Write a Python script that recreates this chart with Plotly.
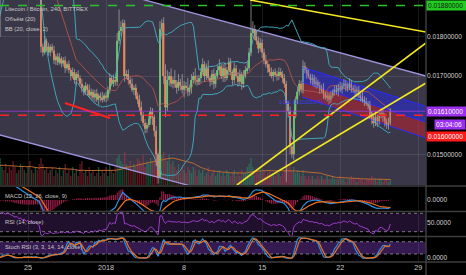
import numpy as np
import pandas as pd
import plotly.graph_objects as go

# ---------------- data (prices in 1e-5 BTC, 240-minute candles) ----------------
closes = [
    1840, 1860, 1880, 1870, 1900, 1920,
    1940, 1960, 1950, 1980, 2000, 2010,
    2030, 2050, 2040, 2070, 2090, 2080,
    2100, 2060, 2010, 2040, 2080, 2070,
    2060, 2090, 2080, 2070, 2060, 2050,
    2060, 2040, 2050, 2030, 2040, 2020,
    2030, 2010, 2020, 2000, 2010, 1990,
    1980,
    1775,
    1760, 1790, 1775, 1760,
    1775, 1765, 1740, 1750, 1735, 1745, 1732, 1740, 1720, 1730,
    1715, 1700, 1710, 1690, 1705, 1695, 1680,
    1670, 1660, 1675, 1665, 1650, 1660, 1645, 1655, 1640, 1650, 1645,
    1640, 1650, 1645, 1665,
    1695, 1680, 1690, 1685,
    1790, 1815, 1825, 1835,
    1700,
    1705, 1690, 1680, 1665, 1670, 1650, 1640,
    1620, 1600, 1580, 1565, 1575, 1590, 1610, 1595, 1560, 1500, 1440,
    1820, 1835,
    1700, 1620, 1690, 1700, 1680, 1690,
    1680, 1670, 1685, 1675, 1665, 1675, 1670, 1660, 1670, 1690, 1700, 1690, 1685, 1695,
    1710, 1730, 1700, 1720, 1695, 1685, 1705, 1680, 1700, 1715, 1725, 1700, 1720,
    1695, 1715, 1735, 1710, 1690, 1720, 1700, 1685, 1705, 1680, 1700, 1715,
    1720, 1760, 1810, 1820, 1800,
    1790, 1770, 1785, 1760, 1740, 1730,
    1720, 1710, 1700, 1710, 1705, 1700, 1710, 1705, 1695,
    1680, 1630, 1610,
    1520, 1500, 1600,
    1640, 1660, 1680, 1665,
    1725,
    1715, 1705, 1700, 1690, 1695, 1680, 1685, 1675, 1665, 1670, 1655, 1645, 1650, 1640, 1650, 1660, 1665,
    1660, 1670, 1665, 1675, 1680, 1675, 1670, 1680, 1670, 1665, 1660, 1665, 1650, 1645, 1640, 1635, 1630, 1625,
    1600, 1590, 1580, 1595, 1585, 1600, 1605, 1595, 1585, 1575, 1580, 1610,
]
wick_up = [
    8, 6, 10, 5, 9, 7, 8, 6, 10, 5, 9, 7, 8, 6, 10, 5, 9, 7, 8, 6, 10,
    10, 6, 8, 12, 5, 9, 7, 10, 6, 8, 5, 9, 12, 6, 8, 7, 10, 5, 9, 6, 8, 10,
    0, 8, 12, 6, 10, 5, 8, 12, 6, 9, 14, 5, 8, 10, 6,
    10, 6, 12, 8, 5, 10, 7, 12, 6, 9, 5, 14, 8, 6, 10, 12, 5, 8, 15, 6, 10, 8, 12, 6, 14, 8,
    20, 55, 15, 10, 8,
    10, 12, 8, 14, 6, 10, 8, 12, 15, 8, 10, 6, 14, 10, 8, 6, 12, 4,
    20, 10, 15, 30, 25, 10, 20, 8,
    25, 10, 20, 8, 30, 12, 10, 25, 8, 15, 10, 20, 12, 8,
    10, 15, 8, 12, 20, 6, 10, 14, 8, 12, 18, 6, 10, 15, 8, 12, 10, 6, 14, 8, 10, 12, 6, 15, 10,
    15, 12, 100, 20, 10,
    15, 10, 12, 8, 10, 14, 8, 10, 12, 6, 10, 8, 12, 10, 8,
    10, 8, 6, 12, 5, 10, 8, 12, 10, 8, 15,
    10, 8, 12, 6, 10, 8, 12, 6, 10, 8, 12, 6, 10, 8, 12, 6, 10,
    12, 10, 15, 8, 12, 10, 8, 14, 10, 6, 12, 8, 10, 6, 14, 8, 10, 6,
    12, 8, 10, 15, 6, 10, 12, 8, 10, 6, 14, 8,
]
wick_dn = [
    6, 9, 5, 10, 7, 8, 6, 9, 5, 10, 7, 8, 6, 9, 5, 10, 7, 8, 6, 9, 5,
    210, 8, 6, 10, 7, 9, 5, 8, 10, 6, 9, 7, 5, 10, 8, 6, 9, 7, 5, 8, 10, 6,
    15, 10, 6, 12, 8, 10, 6, 9, 12, 8, 6, 10, 8, 12, 6,
    8, 12, 6, 10, 14, 8, 6, 12, 10, 8, 15, 6, 10, 8, 12, 6, 14, 10, 8, 6, 12, 8, 10, 6, 8, 10,
    10, 8, 12, 6, 15,
    8, 12, 10, 6, 14, 8, 12, 10, 15, 8, 12, 10, 6, 14, 20, 15, 30, 15,
    0, 10, 20, 25, 10, 15, 8, 12,
    10, 15, 8, 12, 10, 20, 8, 12, 10, 15, 8, 12, 10, 8,
    12, 8, 15, 10, 6, 12, 8, 14, 10, 6, 12, 8, 15, 10, 6, 12, 8, 14, 10, 6, 12, 8, 15, 10, 6,
    8, 6, 10, 12, 8,
    10, 12, 8, 14, 10, 8, 12, 10, 6, 14, 8, 12, 10, 8, 12,
    10, 200, 15, 20, 10, 15, 8, 12, 10, 8, 10,
    8, 12, 6, 10, 14, 8, 12, 6, 10, 8, 14, 6, 10, 12, 8, 6, 10,
    8, 12, 6, 10, 8, 14, 10, 6, 12, 8, 10, 14, 6, 10, 8, 12, 6, 10,
    10, 14, 12, 8, 15, 10, 8, 12, 14, 10, 12, 6,
]
volumes = [
    6, 5, 7, 6, 5, 8, 6, 7, 5, 6, 8, 7, 6, 5, 7, 6, 8, 5, 6, 7, 9,
    9, 6, 5, 7, 4, 6, 5, 8, 6, 4, 5, 7, 6, 5, 4, 6, 8, 5, 4, 6, 5, 7,
    9, 7, 5, 6, 4, 5, 6, 3, 5, 4, 6, 3, 5, 7, 4,
    5, 3, 6, 4, 5, 3, 7, 8, 4, 5, 3, 6, 4, 5, 3, 4, 6, 3, 5, 4, 6, 3, 7, 5, 4, 6,
    9, 10, 8, 7, 11,
    7, 6, 8, 5, 7, 6, 9, 8, 7, 10, 6, 8, 7, 9, 8, 10, 11, 12,
    12, 10, 11, 9, 8, 10, 7, 8,
    6, 5, 7, 4, 6, 5, 4, 6, 5, 4, 6, 5, 3, 5,
    4, 5, 3, 4, 6, 3, 4, 5, 3, 4, 5, 3, 4, 3, 5, 4, 3, 4, 5, 3, 4, 3, 5, 4, 4,
    6, 7, 9, 6, 5,
    5, 4, 6, 4, 5, 3, 4, 5, 3, 4, 3, 5, 4, 3, 4,
    5, 8, 6, 7, 5, 6, 4, 5, 4, 3, 5,
    3, 2, 3, 2, 3, 2, 2, 3, 2, 3, 2, 2, 3, 2, 2, 3, 2,
    2, 2, 3, 2, 2, 1, 2, 2, 3, 2, 2, 1, 2, 2, 2, 1, 2, 2,
    2, 3, 2, 2, 1, 2, 2, 1, 2, 2, 1, 2,
]

first_day = -6.0            # first candle, in days from 2017-12-25 00:00
candle_days = 4.0 / 24.0    # 240-minute candles
date_ticks = [0, 7, 14, 21, 28, 35]
date_labels = ["25", "2018", "8", "15", "22", "29"]
price_ticks = [0.015, 0.017, 0.018]
day_range = [-2.511, 35.695]
price_range = [0.014216, 0.018941]

# drawings (day, price)
channel_top = [(10.49, 0.018940), (35.695, 0.017000)]
channel_bottom = [(-2.511, 0.015493), (14.26, 0.014216)]
yellow_lines = [
    [(19.91, 0.018941), (35.695, 0.018124)],
    [(18.74, 0.014216), (35.695, 0.017843)],
    [(20.36, 0.014216), (35.695, 0.016821)],
]
red_segment = [(3.318, 0.016310), (7.354, 0.015927)]
reg_upper = [(24.57, 0.017230), (35.695, 0.016221)]
reg_lower = [(24.57, 0.016464), (35.695, 0.015416)]
level_green = 0.0188
level_red = 0.0160
last_price = 0.0161

# ---------------- derived series ----------------
n = len(closes)
c = np.array(closes) / 1e5
o = np.r_[c[0], c[:-1]]
hi = np.maximum(o, c) + np.array(wick_up) / 1e5
lo = np.minimum(o, c) - np.array(wick_dn) / 1e5
t = first_day + np.arange(n) * candle_days
vol = np.array(volumes, dtype=float)
up = c >= o

s = pd.Series(c)
bb_mid = s.rolling(20).mean()
bb_sd = s.rolling(20).std(ddof=0)
bb_up = bb_mid + 2 * bb_sd
bb_lo = bb_mid - 2 * bb_sd
vol_ma = pd.Series(vol).rolling(20).mean()

ema12 = s.ewm(span=12, adjust=False).mean()
ema26 = s.ewm(span=26, adjust=False).mean()
macd = ema12 - ema26
signal = macd.ewm(span=9, adjust=False).mean()
hist = macd - signal

delta = s.diff()
gain = delta.clip(lower=0).ewm(alpha=1 / 14, adjust=False).mean()
loss = (-delta.clip(upper=0)).ewm(alpha=1 / 14, adjust=False).mean()
rsi = 100 - 100 / (1 + gain / loss.replace(0, np.nan))
rsi = rsi.fillna(100)
rmin = rsi.rolling(14).min()
rmax = rsi.rolling(14).max()
stoch = (rsi - rmin) / (rmax - rmin) * 100
k_line = stoch.rolling(3).mean()
d_line = k_line.rolling(3).mean()


def at(line, d):
    (d0, p0), (d1, p1) = line
    return p0 + (p1 - p0) * (d - d0) / (d1 - d0)


# ---------------- figure ----------------
W, H = 466, 275
ML, MR, MT, MB = 0, 40, 0, 13
PW, PH = W - ML - MR, H - MT - MB


def py(px):
    return (PH - px) / PH


def pxx(px):
    return px / PW


fig = go.Figure()

# volume (base axis y)
fig.add_trace(go.Bar(
    x=t, y=vol, width=candle_days * 0.75, yaxis="y", xaxis="x",
    marker=dict(color=np.where(up, "rgba(40,150,100,0.5)", "rgba(210,50,75,0.45)"), line=dict(width=0)),
))
fig.add_trace(go.Scatter(x=t, y=vol_ma, mode="lines", line=dict(color="#b86a30", width=1), yaxis="y"))

# channel lines
d_ext = [day_range[0] - 1, day_range[1] + 1]
for ln in (channel_top, channel_bottom):
    fig.add_trace(go.Scatter(x=d_ext, y=[at(ln, d) for d in d_ext], mode="lines",
                             line=dict(color="#a094dc", width=1.3), yaxis="y2"))

# regression channel
rx = [reg_upper[0][0], reg_upper[1][0]]
ru = [reg_upper[0][1], reg_upper[1][1]]
rl = [reg_lower[0][1], reg_lower[1][1]]
rm = [(a + b) / 2 for a, b in zip(ru, rl)]
fig.add_trace(go.Scatter(x=rx + rx[::-1], y=ru + rm[::-1], fill="toself", mode="lines",
                         fillcolor="rgba(40,40,235,0.5)", line=dict(width=0), yaxis="y2"))
fig.add_trace(go.Scatter(x=rx + rx[::-1], y=rm + rl[::-1], fill="toself", mode="lines",
                         fillcolor="rgba(200,30,45,0.5)", line=dict(width=0), yaxis="y2"))
for yy in (ru, rm, rl):
    fig.add_trace(go.Scatter(x=rx, y=yy, mode="lines", line=dict(color="#2a2aff", width=1), yaxis="y2"))

# Bollinger bands
fig.add_trace(go.Scatter(x=t, y=bb_up, mode="lines", line=dict(color="#3fa5ba", width=1), yaxis="y2"))
fig.add_trace(go.Scatter(x=t, y=bb_lo, mode="lines", line=dict(color="#3fa5ba", width=1), yaxis="y2"))
fig.add_trace(go.Scatter(x=t, y=bb_mid, mode="lines", line=dict(color="#a8504a", width=1), yaxis="y2"))

# candle wicks
wx, wy = [], []
for i in range(n):
    wx += [t[i], t[i], None]
    wy += [lo[i], hi[i], None]
fig.add_trace(go.Scatter(x=wx, y=wy, mode="lines", line=dict(color="rgba(165,165,165,0.75)", width=1), yaxis="y2"))
# candle bodies
fig.add_trace(go.Bar(
    x=t, y=np.maximum(np.abs(c - o), 1.5e-5), base=np.minimum(o, c), width=candle_days * 0.75,
    marker=dict(color=np.where(up, "#53c653", "#f2713a"), line=dict(width=0)), yaxis="y2",
))

# drawings
for ln in yellow_lines:
    fig.add_trace(go.Scatter(x=[ln[0][0], ln[1][0]], y=[ln[0][1], ln[1][1]], mode="lines",
                             line=dict(color="#f2e822", width=1.6), yaxis="y2"))
fig.add_trace(go.Scatter(x=[red_segment[0][0], red_segment[1][0]], y=[red_segment[0][1], red_segment[1][1]],
                         mode="lines", line=dict(color="#ff2020", width=2), yaxis="y2"))

# MACD
fig.add_trace(go.Bar(x=t, y=hist, width=candle_days * 0.6, yaxis="y3",
                     marker=dict(color="rgba(190,35,90,0.85)", line=dict(width=0))))
fig.add_trace(go.Scatter(x=t, y=macd, mode="lines", line=dict(color="#2e8fe0", width=1.2), yaxis="y3"))
fig.add_trace(go.Scatter(x=t, y=signal, mode="lines", line=dict(color="#f0701a", width=1.2), yaxis="y3"))
# RSI
fig.add_trace(go.Scatter(x=t, y=rsi, mode="lines", line=dict(color="#9a3cc8", width=1), yaxis="y4"))
# Stoch RSI
fig.add_trace(go.Scatter(x=t, y=k_line, mode="lines", line=dict(color="#2e8fe0", width=1.2), yaxis="y5"))
fig.add_trace(go.Scatter(x=t, y=d_line, mode="lines", line=dict(color="#f0701a", width=1.2), yaxis="y5"))

# ---------------- shapes ----------------
shapes = []
cx0, cx1 = day_range[0] - 1, day_range[1] + 1
path = (f"M {cx0},{at(channel_top, cx0)} L {cx1},{at(channel_top, cx1)} "
        f"L {cx1},{at(channel_bottom, cx1)} L {cx0},{at(channel_bottom, cx0)} Z")
shapes.append(dict(type="path", path=path, xref="x", yref="y2", layer="below",
                   fillcolor="rgb(58,56,72)", line=dict(width=0)))
# indicator bands
shapes.append(dict(type="rect", xref="paper", x0=0, x1=1, yref="y4", y0=30, y1=70, layer="below",
                   fillcolor="#21102d", line=dict(width=0)))
shapes.append(dict(type="rect", xref="paper", x0=0, x1=1, yref="y5", y0=20, y1=80, layer="below",
                   fillcolor="#341a50", line=dict(width=0)))
for ax, v in (("y4", 30), ("y4", 70), ("y5", 20), ("y5", 80)):
    shapes.append(dict(type="line", xref="paper", x0=0, x1=1, yref=ax, y0=v, y1=v,
                       line=dict(color="rgba(170,170,170,0.7)", width=1, dash="dot")))
# level lines
shapes.append(dict(type="line", xref="paper", x0=0, x1=1, yref="y2", y0=level_green, y1=level_green,
                   line=dict(color="#2ec12e", width=1.5, dash="dash")))
shapes.append(dict(type="line", xref="paper", x0=0, x1=1, yref="y2", y0=last_price, y1=last_price,
                   line=dict(color="rgba(160,60,220,0.8)", width=1)))
shapes.append(dict(type="line", xref="paper", x0=0, x1=1, yref="y2", y0=level_red, y1=level_red,
                   line=dict(color="#ff2424", width=1.5, dash="dash")))
# separators
for ypx in (186, 211.5, 236.5, 262):
    shapes.append(dict(type="line", xref="paper", x0=0, x1=W / PW, yref="paper", y0=py(ypx), y1=py(ypx),
                       line=dict(color="#3d3d3d", width=1.5)))
shapes.append(dict(type="line", xref="paper", x0=1, x1=1, yref="paper", y0=py(275), y1=1,
                   line=dict(color="#3d3d3d", width=1.5)))

# ---------------- annotations ----------------
ann = []
txt_font = dict(family="Liberation Sans", size=5.8, color="#c8c8c8")
for text, ypx in (("Litecoin / Bitcoin, 240, BITTREX", 9.3), ("Объём (20)", 19.2), ("BB (20, close, 2)", 28.6),
                  ("MACD (12, 26, close, 9)", 196), ("RSI (14, close)", 221.5),
                  ("Stoch RSI (3, 3, 14, 14, close)", 246.5)):
    ann.append(dict(text=text, xref="paper", yref="paper", x=pxx(3), y=py(ypx), xanchor="left",
                    yanchor="middle", showarrow=False, font=txt_font))
ann.append(dict(text="1.021 (0.01315374)", xref="paper", yref="paper", x=pxx(301), y=py(102.5),
                xanchor="center", yanchor="middle", showarrow=False,
                font=dict(family="Liberation Sans", size=5, color="#3a3aff")))
lab_font = dict(family="Liberation Sans", size=6.6, color="#ffffff")
ann.append(dict(text=f"{level_green:.8f}", xref="paper", yref="y2", x=1, y=level_green, xanchor="left",
                yanchor="middle", showarrow=False, bgcolor="#22cc22", borderpad=1, width=38, align="left",
                font=dict(family="Liberation Sans", size=6.6, color="#102010")))
ann.append(dict(text=f"{last_price:.8f}", xref="paper", yref="y2", x=1, y=last_price, xanchor="left",
                yanchor="middle", showarrow=False, bgcolor="#9b30f0", borderpad=1, width=38, align="left",
                font=lab_font))
ann.append(dict(text="03:04:06", xref="paper", yref="paper", x=W / PW, y=py(124.3), xanchor="right",
                yanchor="middle", showarrow=False, bgcolor="#9b30f0", borderpad=1, width=28, align="left",
                font=lab_font))
ann.append(dict(text=f"{level_red:.8f}", xref="paper", yref="paper", x=1, y=py(136.7), xanchor="left",
                yanchor="middle", showarrow=False, bgcolor="#ff1a1a", borderpad=1, width=38, align="left",
                font=lab_font))

axis_font = dict(family="Liberation Sans", size=6.6, color="#d4d4d4")
grid = "rgba(255,255,255,0.09)"
fig.update_layout(
    width=W, height=H, margin=dict(l=ML, r=MR, t=MT, b=MB),
    paper_bgcolor="#000000", plot_bgcolor="#000000", showlegend=False, barmode="overlay",
    font=dict(family="Liberation Sans"),
    xaxis=dict(domain=[0, 1], range=day_range, anchor="y5", tickvals=date_ticks, ticktext=date_labels,
               showgrid=True, gridcolor=grid, gridwidth=1, zeroline=False, showline=False, ticks="",
               tickfont=dict(family="Liberation Sans", size=7.2, color="#c8c8c8")),
    yaxis=dict(domain=[py(185), 1], range=[0, 61.7], visible=False, showgrid=False, zeroline=False),
    yaxis2=dict(overlaying="y", side="right", anchor="x", range=price_range, tickvals=price_ticks,
                tickformat=".8f", showgrid=True, gridcolor=grid, zeroline=False, ticks="",
                tickfont=axis_font),
    yaxis3=dict(domain=[py(211), py(187)], side="right", anchor="x", range=[-0.000275, 0.000325],
                tickvals=[0], ticktext=["0.0000"], showgrid=False, zeroline=False, ticks="", tickfont=axis_font),
    yaxis4=dict(domain=[py(236), py(212)], side="right", anchor="x", range=[20.65, 72.8],
                tickvals=[50], ticktext=["50.0000"], showgrid=False, zeroline=False, ticks="", tickfont=axis_font),
    yaxis5=dict(domain=[0, py(237)], side="right", anchor="x", range=[-19, 103],
                tickvals=[0], ticktext=["0.0000"], showgrid=False, zeroline=False, ticks="", tickfont=axis_font),
    shapes=shapes, annotations=ann,
)

fig.write_html("out.html")
